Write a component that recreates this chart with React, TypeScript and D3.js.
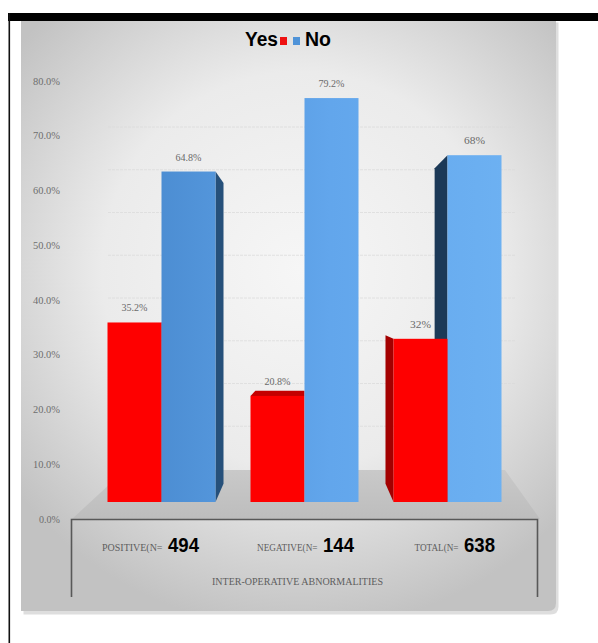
import React from "react";
import * as d3 from "d3";

const categories = ["POSITIVE(N=", "NEGATIVE(N=", "TOTAL(N="];
const counts = ["494", "144", "638"];
const series = ["Yes", "No"];
const yesValues = [35.2, 20.8, 32];
const noValues = [64.8, 79.2, 68];
const yesLabels = ["35.2%", "20.8%", "32%"];
const noLabels = ["64.8%", "79.2%", "68%"];
const yTicks = [0, 10, 20, 30, 40, 50, 60, 70, 80];
const axisTitle = "INTER-OPERATIVE ABNORMALITIES";

const W = 598;
const H = 643;

export default function App() {
  const x = d3.scaleBand<string>().domain(categories).range([90, 519]);
  const sub = d3.scaleBand<string>().domain(series).range([-54, 54]);
  const yBar = d3.scaleLinear().domain([0, 80]).range([502, 94]);
  const yAxis = d3.scaleLinear().domain([0, 80]).range([519, 81]);
  const yWall = d3.scaleLinear().domain([0, 80]).range([469, 127]);
  const fmt = d3.format(".1f");

  const vpX = 304.5;
  const vpY = 300;
  const vpTop = 338;
  const k = 0.91;
  const fx = (v: number) => vpX + (v - vpX) * k;
  const fy = (v: number) => vpY + (v - vpY) * k;
  const fyTop = (v: number) => vpTop + (v - vpTop) * k;

  type Bar = { x0: number; x1: number; top: number; base: number; s: string; label: string; ci: number };
  const bars: Bar[] = [];
  categories.forEach((c, i) => {
    const cx = (x(c) as number) + x.bandwidth() / 2;
    [yesValues[i], noValues[i]].forEach((v, j) => {
      const x0 = cx + (sub(series[j]) as number);
      bars.push({
        x0,
        x1: x0 + sub.bandwidth(),
        top: yBar(v),
        base: yBar(0),
        s: series[j],
        label: j === 0 ? yesLabels[i] : noLabels[i],
        ci: i,
      });
    });
  });
  const order = [...bars].sort(
    (a, b) => Math.abs((b.x0 + b.x1) / 2 - vpX) - Math.abs((a.x0 + a.x1) / 2 - vpX)
  );

  const colors: Record<string, { front: string; side: string; top: string }> = {
    Yes: { front: "#fe0000", side: "#a30000", top: "#c40000" },
    No: { front: "url(#blueGrad)", side: "#26507a", top: "#8cc4f5" },
  };

  const pts = (p: number[][]) => p.map((q) => q.join(",")).join(" ");

  const labelShift = [5, 17, 15];

  return (
    <svg
      width={W}
      height={H}
      style={{ position: "absolute", left: 0, top: 0 }}
      xmlns="http://www.w3.org/2000/svg"
    >
      <defs>
        <radialGradient id="bg" cx="300" cy="270" r="360" gradientUnits="userSpaceOnUse">
          <stop offset="0" stopColor="#f6f6f6" />
          <stop offset="0.55" stopColor="#ebebeb" />
          <stop offset="1" stopColor="#c2c2c2" />
        </radialGradient>
        <linearGradient id="blueGrad" x1="150" y1="0" x2="510" y2="0" gradientUnits="userSpaceOnUse">
          <stop offset="0" stopColor="#4b8cd1" />
          <stop offset="0.5" stopColor="#62a6ec" />
          <stop offset="1" stopColor="#6db1f2" />
        </linearGradient>
        <linearGradient id="floorGrad" x1="0" y1="470" x2="0" y2="519" gradientUnits="userSpaceOnUse">
          <stop offset="0" stopColor="#c9c9c9" />
          <stop offset="1" stopColor="#bdbdbd" />
        </linearGradient>
      </defs>
      <rect x={0} y={0} width={W} height={H} fill="#ffffff" />
      {/* frame */}
      <rect x={8} y={13} width={590} height={8} fill="#000" />
      <rect x={8.5} y={13} width={1.6} height={630} fill="#111" />
      {/* panel shadow + panel */}
      <path
        d="M22,21 H557 V605 Q557,613 549,613 H22 Z"
        fill="#bdbdbd"
        opacity={0.5}
        transform="translate(1.5,1.5)"
      />
      <path d="M21,21 H556 V603 Q556,611 548,611 H21 Z" fill="url(#bg)" />

      {/* back wall gridlines */}
      {yTicks.slice(1).map((t) => (
        <line
          key={"g" + t}
          x1={108}
          x2={515}
          y1={yWall(t)}
          y2={yWall(t)}
          stroke="#dadada"
          strokeWidth={1}
          strokeDasharray="3,1"
          opacity={0.7}
        />
      ))}

      {/* floor */}
      <polygon points={pts([[125, 470], [505, 470], [540, 519], [72, 519]])} fill="url(#floorGrad)" />

      {/* y-axis labels */}
      {yTicks.map((t) => (
        <text
          key={"t" + t}
          x={60}
          y={yAxis(t) + 3.5}
          textAnchor="end"
          fontFamily="Liberation Serif"
          fontSize={10.5}
          fill="#6e6e6e"
          textLength={t === 0 ? 21 : 27}
          lengthAdjust="spacingAndGlyphs"
        >
          {fmt(t) + "%"}
        </text>
      ))}

      {/* bars */}
      {order.map((b, idx) => {
        const c = colors[b.s];
        const faces: React.ReactNode[] = [];
        const ft = fy(b.top);
        const fb = fy(b.base);
        if (b.top > vpTop) {
          const tt = fyTop(b.top);
          faces.push(
            <polygon
              key="top"
              points={pts([[b.x0, b.top], [b.x1, b.top], [fx(b.x1), tt], [fx(b.x0), tt]])}
              fill={c.top}
            />
          );
        }
        if (b.x1 < vpX - 2) {
          faces.push(
            <polygon
              key="side"
              points={pts([[b.x1, b.top], [fx(b.x1), ft], [fx(b.x1), fb], [b.x1, b.base]])}
              fill={c.side}
            />
          );
        } else if (b.x0 > vpX + 2) {
          faces.push(
            <polygon
              key="side"
              points={pts([[b.x0, b.top], [fx(b.x0), ft], [fx(b.x0), fb], [b.x0, b.base]])}
              fill={b.s === "No" ? "#1c3957" : c.side}
            />
          );
        }
        return (
          <g key={"b" + idx}>
            {faces}
            <rect x={b.x0} y={b.top} width={b.x1 - b.x0} height={b.base - b.top} fill={c.front} />
          </g>
        );
      })}

      {/* data labels */}
      {bars.map((b, i) => (
        <text
          key={"l" + i}
          x={(b.x0 + b.x1) / 2}
          y={b.top - 11}
          textAnchor="middle"
          fontFamily="Liberation Serif"
          fontSize={10.5}
          fill="#6a6a6a"
          textLength={b.label.length > 3 ? 26 : 21}
          lengthAdjust="spacingAndGlyphs"
        >
          {b.label}
        </text>
      ))}

      {/* category box */}
      <path d="M71.5,597 V519.5 H537.5 V597" fill="none" stroke="#585858" strokeWidth={1.6} />

      {categories.map((c, i) => {
        const cx = (x(c) as number) + x.bandwidth() / 2;
        const endX = cx + labelShift[i];
        return (
          <g key={"c" + i}>
            <text
              x={endX - 4}
              y={551}
              textAnchor="end"
              fontFamily="Liberation Serif"
              fontSize={11}
              fill="#5e5e5e"
              textLength={c.length * 5.5}
              lengthAdjust="spacingAndGlyphs"
            >
              {c}
            </text>
            <text
              x={endX + 1.5}
              y={552}
              fontFamily="Liberation Sans"
              fontWeight="bold"
              fontSize={20}
              fill="#000"
              textLength={31}
              lengthAdjust="spacingAndGlyphs"
            >
              {counts[i]}
            </text>
          </g>
        );
      })}

      <text
        x={297.5}
        y={585}
        textAnchor="middle"
        fontFamily="Liberation Serif"
        fontSize={11}
        fill="#5e5e5e"
        textLength={171}
        lengthAdjust="spacingAndGlyphs"
      >
        {axisTitle}
      </text>

      {/* legend */}
      <text
        x={278}
        y={46}
        textAnchor="end"
        fontFamily="Liberation Sans"
        fontWeight="bold"
        fontSize={20}
        fill="#000"
        textLength={33}
        lengthAdjust="spacingAndGlyphs"
      >
        {series[0]}
      </text>
      <rect x={280} y={37} width={7} height={8} fill="#ee1111" />
      <rect x={293} y={37} width={7} height={8} fill="#4f93d8" />
      <text
        x={305}
        y={46}
        fontFamily="Liberation Sans"
        fontWeight="bold"
        fontSize={20}
        fill="#000"
        textLength={26}
        lengthAdjust="spacingAndGlyphs"
      >
        {series[1]}
      </text>
    </svg>
  );
}
